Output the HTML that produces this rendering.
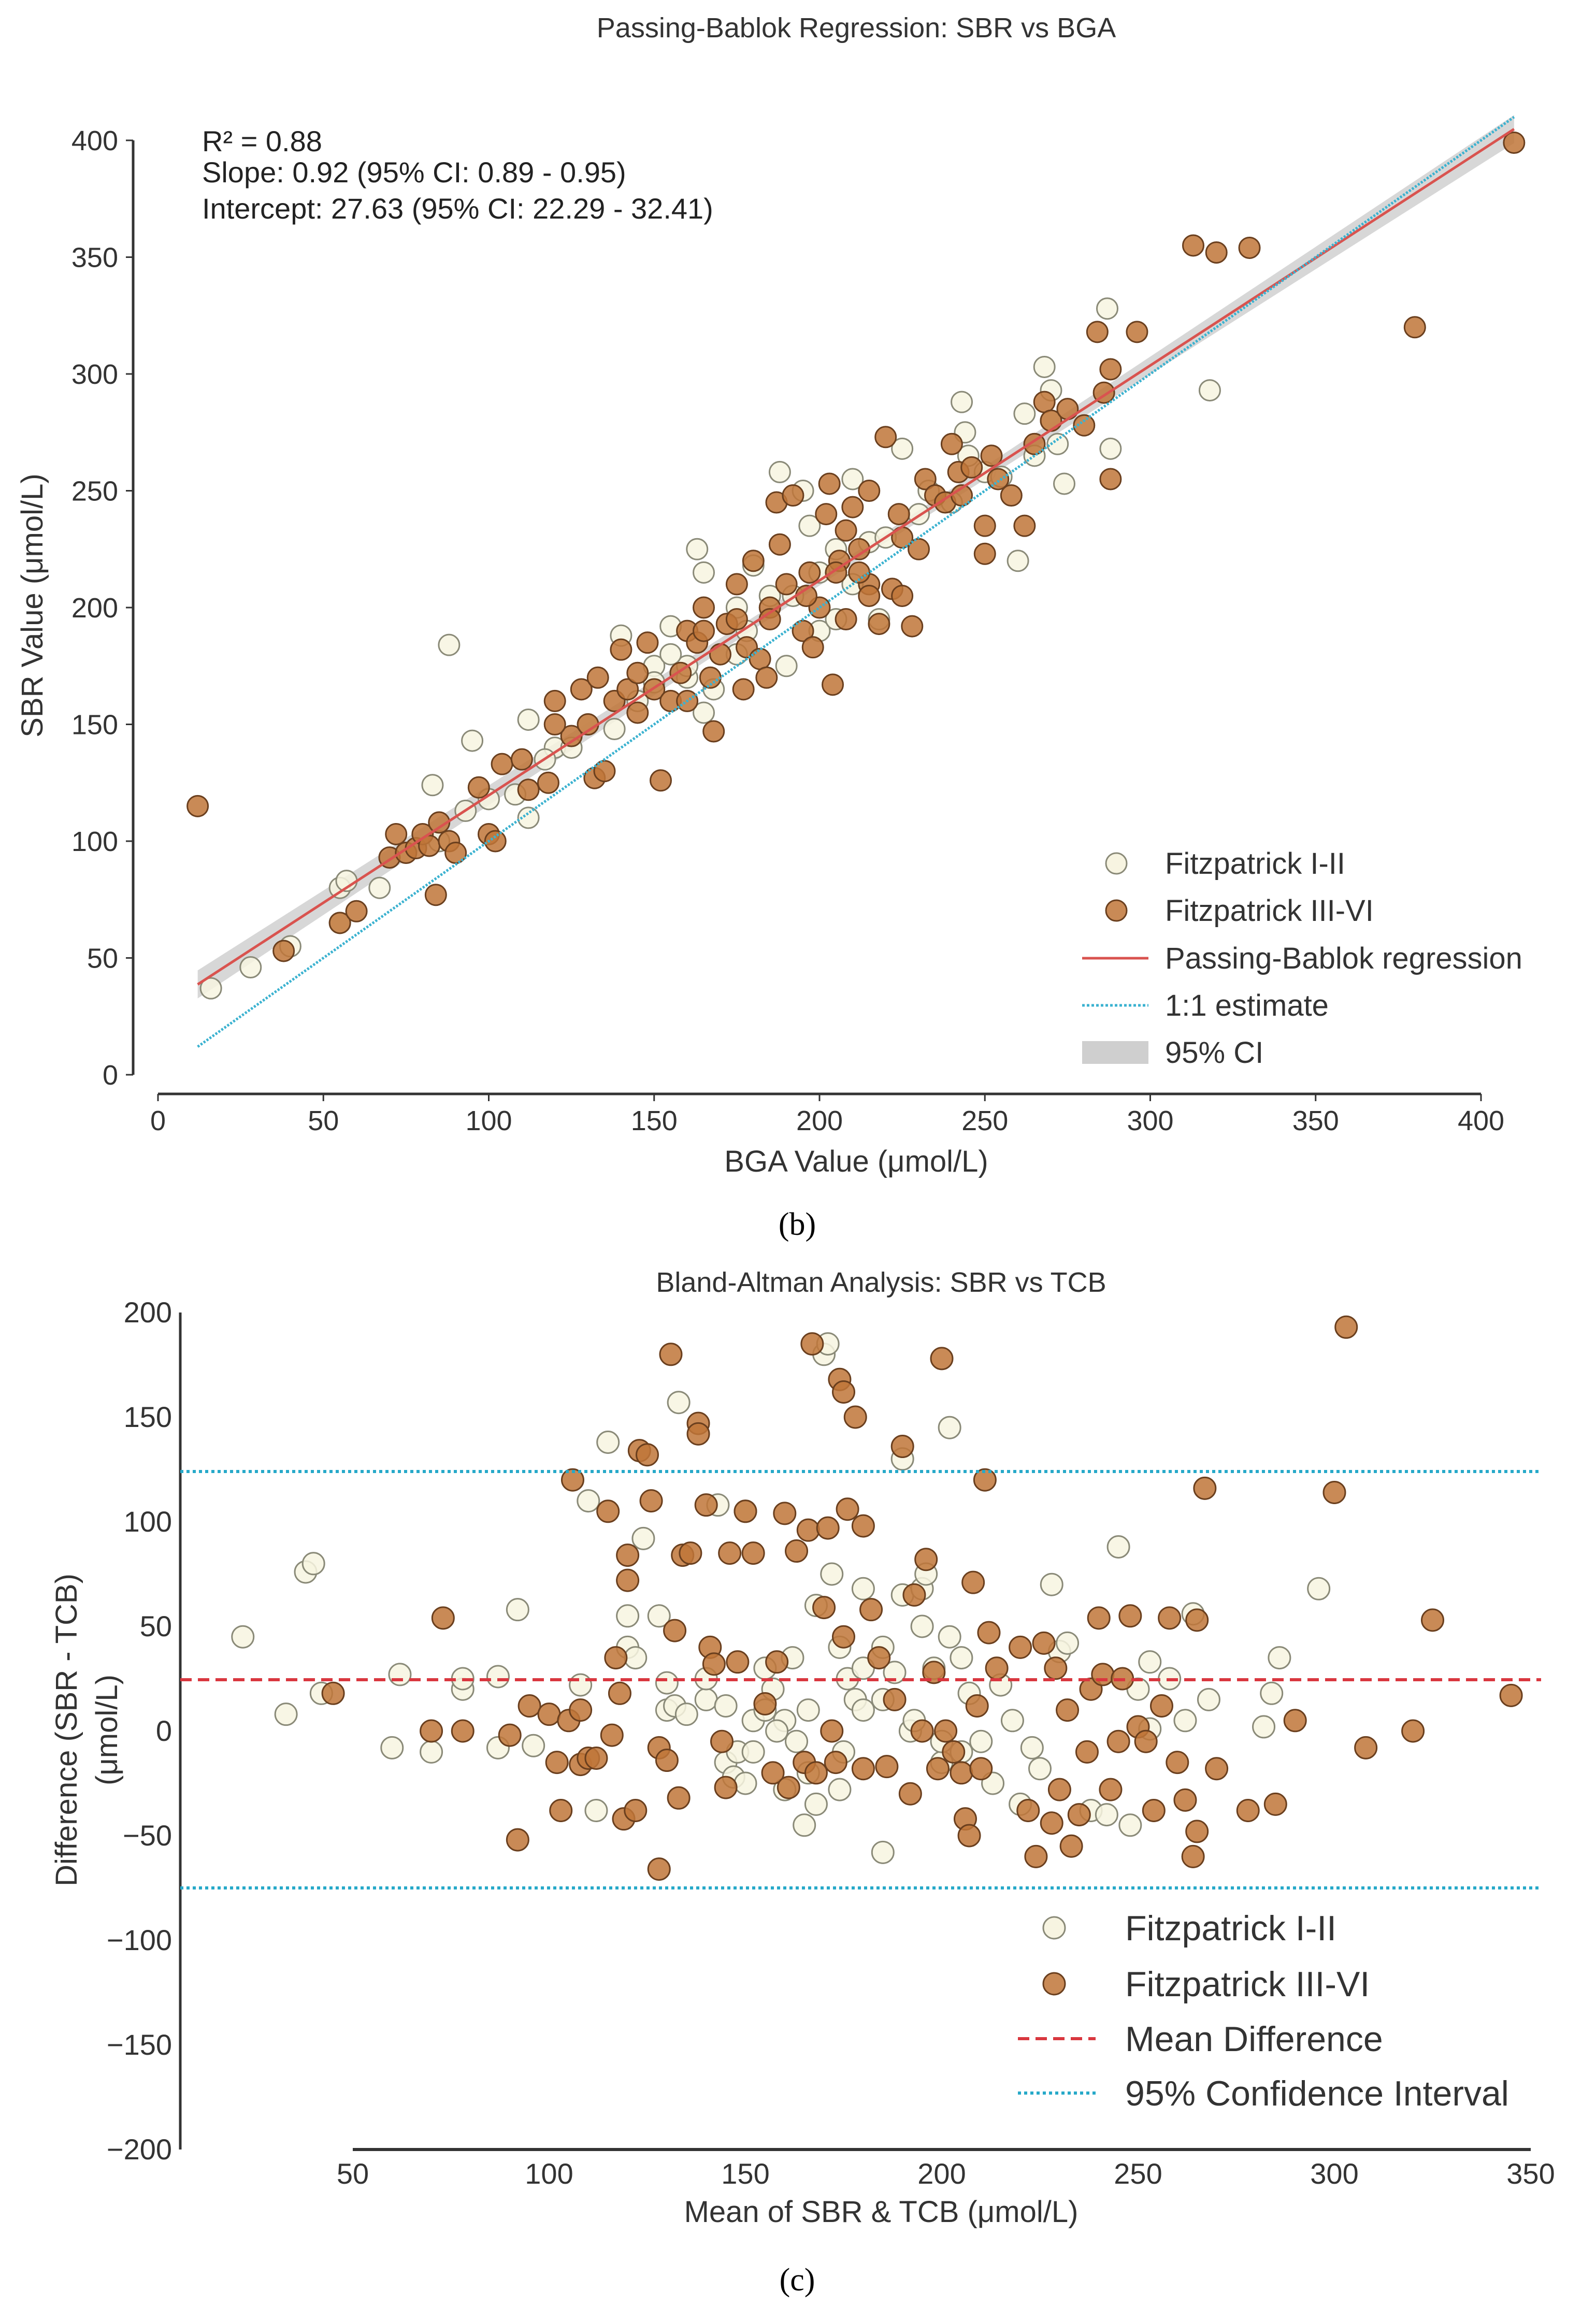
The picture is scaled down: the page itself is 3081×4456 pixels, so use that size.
<!DOCTYPE html>
<html><head><meta charset="utf-8"><style>
html,body{margin:0;padding:0;background:#fff;}
svg{display:block;font-family:"Liberation Sans",sans-serif;}
</style></head><body>
<svg id="fig" width="3081" height="4456" viewBox="0 0 3081 4456">
<g id="top"></g>
<g id="bot"></g>
<text x="1539" y="2384" font-family="Liberation Serif,serif" font-size="62" text-anchor="middle">(b)</text>
<text x="1539" y="4422" font-family="Liberation Serif,serif" font-size="62" text-anchor="middle">(c)</text>
</svg>
<script>
// ---- Top chart data ----
const topXTicks=[0,50,100,150,200,250,300,350,400];
const topYTicks=[0,50,100,150,200,250,300,350,400];
const pbWhiteX=[16,28,40,55,57,55,67,88,95,83,93,112,112,120,117,140,150,155,163,165,160,165,170,175,180,188,190,195,197,200,205,210,215,218,225,243,244,245,250,260,262,265,268,270,272,274,287,288,318,270,230,185,175,145,130,125,100,75,85,210,220,200,160,155,138,108,192,178,168,150,233,240,255,205];
const pbWhiteY=[37,46,55,80,83,65,80,184,143,124,113,152,110,140,135,188,175,192,225,215,170,155,180,200,218,258,175,250,235,190,195,255,228,195,268,288,275,265,258,220,283,265,303,293,270,253,328,268,293,280,240,205,180,160,150,140,118,95,100,210,230,215,175,180,148,120,205,190,165,168,250,245,256,225];
const pbBrownX=[12,38,55,60,70,72,75,78,80,82,84,85,88,90,97,100,102,104,110,112,118,120,125,128,130,132,135,133,138,140,142,145,148,150,152,155,158,160,163,165,167,168,170,172,175,177,178,180,182,184,185,187,188,190,192,195,197,198,200,202,203,204,206,208,210,212,215,218,220,222,224,225,228,230,232,235,238,240,242,243,246,250,250,252,254,258,262,265,268,270,275,280,284,286,288,288,296,313,320,330,380,410,196,185,175,165,145,225,215,205,160,120,215,208,212];
const pbBrownY=[115,53,65,70,93,103,95,97,103,98,77,108,100,95,123,103,100,133,135,122,125,160,145,165,150,127,130,170,160,182,165,172,185,165,126,160,172,190,185,200,170,147,180,193,195,165,183,220,178,170,200,245,227,210,248,190,215,183,200,240,253,167,220,233,243,225,250,193,273,208,240,205,192,225,255,248,245,270,258,248,260,223,235,265,255,248,235,270,288,280,285,278,318,292,255,302,318,355,352,354,320,399,205,195,210,190,155,230,210,215,160,150,205,195,215];
const pbSlope=0.92, pbIntercept=27.63;
const pbRange=[12,410];
// ---- Bottom chart data ----
const baXTicks=[50,100,150,200,250,300,350];
const baYTicks=[-200,-150,-100,-50,0,50,100,150,200];
const baWhiteX=[22,33,38,40,42,60,62,70,78,78,87,87,92,96,108,110,112,115,120,120,122,124,128,130,130,132,133,135,140,143,145,145,147,148,150,150,152,152,155,155,157,160,160,162,163,165,166,168,170,171,168,172,174,174,176,178,180,180,185,185,188,190,190,192,193,195,195,196,198,200,202,202,205,207,210,213,215,218,220,223,225,228,230,232,238,242,245,248,250,253,253,258,262,264,268,282,284,286,296,180,175,158,200,205,185,140,166];
const baWhiteY=[45,8,76,80,18,-8,27,-10,20,25,26,-8,58,-7,22,110,-38,138,40,55,35,92,55,23,10,12,157,8,15,108,12,-15,-22,-10,-25,105,5,-10,10,30,20,5,-28,35,-5,-45,10,-35,180,185,60,75,40,-28,25,15,68,30,40,-58,28,65,130,0,5,50,68,75,30,-15,145,45,35,18,-5,-25,22,5,-35,-8,-18,70,38,42,-38,-40,88,-45,20,33,1,25,5,56,15,2,18,35,68,10,-10,0,-5,-10,15,25,-20];
const baBrownX=[45,70,73,78,90,92,95,100,102,103,105,106,108,108,110,112,115,116,117,118,119,120,120,122,123,125,126,128,128,130,131,132,133,134,136,138,138,140,141,142,144,145,146,148,150,152,155,157,158,160,161,163,165,166,167,168,170,171,172,173,174,175,175,176,178,180,180,182,184,186,188,190,192,193,195,196,198,199,200,201,203,205,206,207,208,209,210,211,212,214,220,222,224,226,228,229,230,232,233,235,237,238,240,241,243,245,246,248,250,252,254,256,258,260,262,264,265,265,267,270,278,285,290,300,303,308,320,325,345];
const baBrownY=[18,0,54,0,-2,-52,12,8,-15,-38,5,120,-16,10,-13,-13,105,-2,35,18,-42,84,72,-38,134,132,110,-66,-8,-14,180,48,-32,84,85,147,142,108,40,32,-5,-27,85,33,105,85,13,-20,33,104,-27,86,-15,96,185,-20,59,97,0,-15,168,162,45,106,150,98,-18,58,35,-17,15,136,-30,65,0,82,28,-18,178,0,-10,-20,-42,-50,71,12,-18,120,47,30,40,-38,-60,42,-44,30,-28,10,-55,-40,-10,20,54,27,-28,-5,25,55,2,-5,-38,12,54,-15,-33,-60,-48,53,116,-18,-38,-35,5,114,193,-8,0,53,17];
const baMean=24.5, baUpper=124, baLower=-75;

const NS='http://www.w3.org/2000/svg';
function mk(parent,tag,attrs,text){const e=document.createElementNS(NS,tag);for(const k in attrs)e.setAttribute(k,attrs[k]);if(text!==undefined)e.textContent=text;parent.appendChild(e);return e;}
const WF='#f7f4e1',WS='#8a8a78',BF='#bf7638',BS='#6a3f1e';

// ===== TOP =====
(function(){
const g=document.getElementById('top');
const X=v=>305+(v/400)*(2859-305);
const Y=v=>2075-(v/400)*(2075-271);
let t=mk(g,'text',{x:1653,y:72,'font-size':54,'text-anchor':'middle',fill:'#333'},'Passing-Bablok Regression: SBR vs BGA');

let a=mk(g,'line',{x1:257,y1:271,x2:257,y2:2075,stroke:'#333','stroke-width':5});

a=mk(g,'line',{x1:305,y1:2112,x2:2859,y2:2112,stroke:'#333','stroke-width':5});

topXTicks.forEach(v=>{
 let l=mk(g,'line',{x1:X(v),y1:2112,x2:X(v),y2:2126,stroke:'#333','stroke-width':3});
 
 let tt=mk(g,'text',{x:X(v),y:2182,'font-size':54,'text-anchor':'middle',fill:'#333'},String(v));
 
});
topYTicks.forEach(v=>{
 let l=mk(g,'line',{x1:243,y1:Y(v),x2:257,y2:Y(v),stroke:'#333','stroke-width':3});
 
 let tt=mk(g,'text',{x:228,y:Y(v)+19,'font-size':54,'text-anchor':'end',fill:'#333'},String(v));
 
});
t=mk(g,'text',{x:1653,y:2262,'font-size':58,'text-anchor':'middle',fill:'#333'},'BGA Value (μmol/L)');

t=mk(g,'text',{x:0,y:0,'font-size':58,'text-anchor':'middle',fill:'#333',transform:'translate(82,1169) rotate(-90)'},'SBR Value (μmol/L)');

const x0=pbRange[0],x1=pbRange[1],xm=(x0+x1)/2;
const hw=v=>2+4*Math.abs(v-xm)/(x1-xm);
let up=[],lo=[];
for(let i=0;i<=20;i++){const v=x0+(x1-x0)*i/20;const yv=pbSlope*v+pbIntercept;up.push(X(v)+','+Y(yv+hw(v)));lo.unshift(X(v)+','+Y(yv-hw(v)));}
let band=mk(g,'polygon',{points:up.concat(lo).join(' '),fill:'#bdbdbd','fill-opacity':0.6});

pbWhiteX.forEach((v,i)=>{let c=mk(g,'circle',{cx:X(v),cy:Y(pbWhiteY[i]),r:20,fill:WF,stroke:WS,'stroke-width':3,'fill-opacity':0.85});
 });
pbBrownX.forEach((v,i)=>{let c=mk(g,'circle',{cx:X(v),cy:Y(pbBrownY[i]),r:20,fill:BF,stroke:BS,'stroke-width':3,'fill-opacity':0.85});
 });
let rl=mk(g,'line',{x1:X(x0),y1:Y(pbSlope*x0+pbIntercept),x2:X(x1),y2:Y(pbSlope*x1+pbIntercept),stroke:'#d9534f','stroke-width':5});

let il=mk(g,'line',{x1:X(x0),y1:Y(x0),x2:X(x1),y2:Y(x1),stroke:'#3bb2d0','stroke-width':5,'stroke-dasharray':'4 3'});

const ann=[['R² = 0.88',292],['Slope: 0.92 (95% CI: 0.89 - 0.95)',352],['Intercept: 27.63 (95% CI: 22.29 - 32.41)',422]];
ann.forEach((a,i)=>{let tt=mk(g,'text',{x:390,y:a[1],'font-size':56,fill:'#222'},a[0]);});
const ly=[1667,1758,1850,1941,2032];
const labels=['Fitzpatrick I-II','Fitzpatrick III-VI','Passing-Bablok regression','1:1 estimate','95% CI'];
let lg=mk(g,'g',{});
let c=mk(lg,'circle',{cx:2155,cy:ly[0],r:20,fill:WF,stroke:WS,'stroke-width':3});
c=mk(lg,'circle',{cx:2155,cy:ly[1],r:20,fill:BF,stroke:BS,'stroke-width':3,'fill-opacity':0.85});
c=mk(lg,'line',{x1:2089,y1:ly[2],x2:2217,y2:ly[2],stroke:'#d9534f','stroke-width':5});
c=mk(lg,'line',{x1:2089,y1:ly[3],x2:2217,y2:ly[3],stroke:'#3bb2d0','stroke-width':5,'stroke-dasharray':'5 4'});
c=mk(lg,'rect',{x:2089,y:ly[4]-22,width:128,height:44,fill:'#cfcfcf'});
labels.forEach((s,i)=>{let tt=mk(lg,'text',{x:2249,y:ly[i]+20,'font-size':58,fill:'#333'},s);});
})();

// ===== BOTTOM =====
(function(){
const g=document.getElementById('bot');
const X=v=>681+(v-50)/300*(2955-681);
const Y=v=>2534+(200-v)/400*(4150-2534);
let t=mk(g,'text',{x:1701,y:2494,'font-size':54,'text-anchor':'middle',fill:'#333'},'Bland-Altman Analysis: SBR vs TCB');

let a=mk(g,'line',{x1:348,y1:2534,x2:348,y2:4150,stroke:'#333','stroke-width':5});

a=mk(g,'line',{x1:681,y1:4150,x2:2955,y2:4150,stroke:'#333','stroke-width':6});

baXTicks.forEach(v=>{let tt=mk(g,'text',{x:X(v),y:4216,'font-size':56,'text-anchor':'middle',fill:'#333'},String(v));
 });
baYTicks.forEach(v=>{let tt=mk(g,'text',{x:332,y:Y(v)+19,'font-size':56,'text-anchor':'end',fill:'#333'},(v<0?'−':'')+Math.abs(v));
 });
t=mk(g,'text',{x:1701,y:4290,'font-size':58,'text-anchor':'middle',fill:'#333'},'Mean of SBR & TCB (μmol/L)');

t=mk(g,'text',{x:0,y:0,'font-size':58,'text-anchor':'middle',fill:'#333',transform:'translate(148,3340) rotate(-90)'},'Difference (SBR - TCB)');

t=mk(g,'text',{x:0,y:0,'font-size':58,'text-anchor':'middle',fill:'#333',transform:'translate(226,3340) rotate(-90)'},'(μmol/L)');

baWhiteX.forEach((v,i)=>{let c=mk(g,'circle',{cx:X(v),cy:Y(baWhiteY[i]),r:21,fill:WF,stroke:WS,'stroke-width':3,'fill-opacity':0.85});
 });
baBrownX.forEach((v,i)=>{let c=mk(g,'circle',{cx:X(v),cy:Y(baBrownY[i]),r:21,fill:BF,stroke:BS,'stroke-width':3,'fill-opacity':0.85});
 });
let m=mk(g,'line',{x1:348,y1:Y(baMean),x2:2975,y2:Y(baMean),stroke:'#d9373f','stroke-width':6,'stroke-dasharray':'22 12'});

m=mk(g,'line',{x1:348,y1:Y(baUpper),x2:2975,y2:Y(baUpper),stroke:'#27a9c9','stroke-width':6,'stroke-dasharray':'6 6'});

m=mk(g,'line',{x1:348,y1:Y(baLower),x2:2975,y2:Y(baLower),stroke:'#27a9c9','stroke-width':6,'stroke-dasharray':'6 6'});

const ly=[3722,3830,3936,4041];
const labels=['Fitzpatrick I-II','Fitzpatrick III-VI','Mean Difference','95% Confidence Interval'];
let lg=mk(g,'g',{});
let c=mk(lg,'circle',{cx:2035,cy:ly[0],r:21,fill:WF,stroke:WS,'stroke-width':3});
c=mk(lg,'circle',{cx:2035,cy:ly[1],r:21,fill:BF,stroke:BS,'stroke-width':3,'fill-opacity':0.85});
c=mk(lg,'line',{x1:1965,y1:ly[2],x2:2115,y2:ly[2],stroke:'#d9373f','stroke-width':6,'stroke-dasharray':'22 12'});
c=mk(lg,'line',{x1:1965,y1:ly[3],x2:2115,y2:ly[3],stroke:'#27a9c9','stroke-width':6,'stroke-dasharray':'6 6'});
labels.forEach((s,i)=>{let tt=mk(lg,'text',{x:2172,y:ly[i]+24,'font-size':68,fill:'#333'},s);});
})();
</script>
</body></html>
